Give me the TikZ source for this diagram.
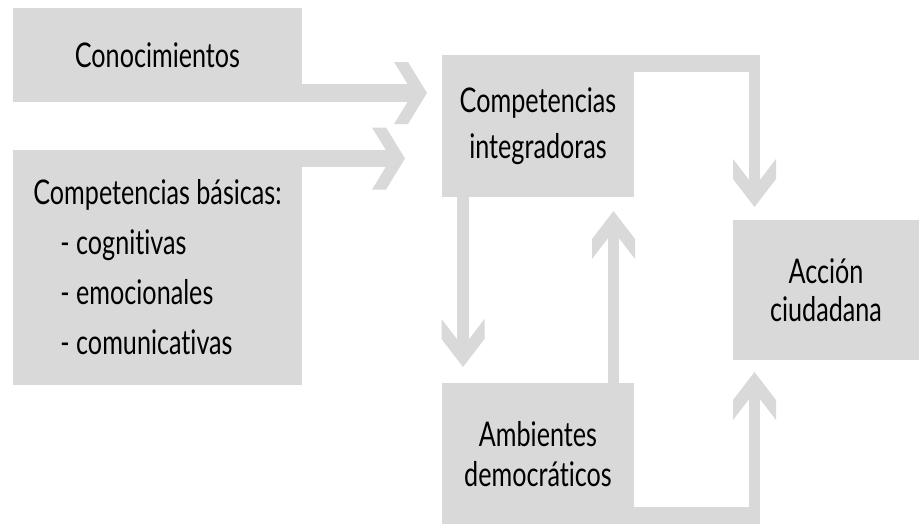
\documentclass[tikz,border=0pt]{standalone}
\usepackage{fontspec}
\setmainfont{Lato}[FakeStretch=0.74, Ligatures=NoCommon]
\usetikzlibrary{calc}
\definecolor{boxgray}{RGB}{217,217,217}
\tikzset{
  box/.style={fill=boxgray, inner sep=0pt, outer sep=0pt, align=center,
    font=\fontsize{34}{40}\selectfont},
  shaft/.style={draw=boxgray, line cap=butt},
  headfill/.style={fill=boxgray},
}
\newcommand\chevR[1]{\fill[headfill] (#1) -- ++(-19,-31) -- ++(-14,0) -- ++(19,31) -- ++(-19,31) -- ++(14,0) -- cycle;}
\newcommand\chevD[1]{\fill[headfill] (#1) -- ++(-21.5,-28) -- ++(0,-20) -- ++(21.5,28) -- ++(21.5,-28) -- ++(0,20) -- cycle;}
\newcommand\chevU[1]{\fill[headfill] (#1) -- ++(-21.5,28) -- ++(0,20) -- ++(21.5,-28) -- ++(21.5,28) -- ++(0,-20) -- cycle;}
\begin{document}
\begin{tikzpicture}[x=1pt,y=-1pt]
\useasboundingbox (0,0) rectangle (919,523);
\begin{scope}
\clip (0,0) rectangle (919,523);
% boxes
\node[box, minimum width=289pt, minimum height=94pt] (con) at (157.5,55) {Conocimientos};
\node[box, minimum width=289pt, minimum height=235pt, align=left,
      font=\fontsize{34}{50}\selectfont] (cb) at (157.5,267.5)
      {Competencias básicas:\\\hspace*{27pt}- cognitivas\\\hspace*{27pt}- emocionales\\\hspace*{27pt}- comunicativas};
\node[box, minimum width=192pt, minimum height=142pt,
      font=\fontsize{34}{46}\selectfont] (ci) at (538,126) {Competencias\\integradoras};
\node[box, minimum width=186pt, minimum height=140pt,
      font=\fontsize{34}{38}\selectfont] (ac) at (826,290) {Acción\\ciudadana};
\node[box, minimum width=192pt, minimum height=142pt,
      font=\fontsize{34}{40}\selectfont] (am) at (538,454) {Ambientes\\democráticos};
% 1: Conocimientos -> Competencias integradoras
\coordinate (s1) at ([yshift=9pt]con.south east);
\coordinate (t1) at ($(s1 -| ci.west)+(-15,0)$);
\draw[shaft, line width=18pt] (s1) -- ($(t1)+(-12,0)$);
\chevR{t1}
% 2: Competencias basicas -> Competencias integradoras
\coordinate (s2) at ([yshift=-8.5pt]cb.north east);
\coordinate (t2) at ($(s2 -| ci.west)+(-37,0)$);
\draw[shaft, line width=17pt] (s2) -- ($(t2)+(-12,0)$);
\chevR{t2}
% 3: Competencias integradoras -> Accion ciudadana
\coordinate (s3) at ([yshift=-8.5pt]ci.north east);
\coordinate (c3) at ($(ac.north west)+(21.5,0)$);
\coordinate (t3) at ($(c3)+(0,-13)$);
\draw[shaft, line width=17pt] (s3) -- ($(s3 -| c3)+(5.5,0)$);
\draw[shaft, line width=11pt] (ci.north -| c3) -- ($(t3)+(0,-10)$);
\chevD{t3}
% 4: Competencias integradoras -> Ambientes
\coordinate (c4) at ($(ci.south west)+(21,0)$);
\coordinate (t4) at ($(c4 |- am.north)+(0,-16)$);
\draw[shaft, line width=12pt] (c4) -- ($(t4)+(0,-10)$);
\chevD{t4}
% 5: Ambientes -> Competencias integradoras
\coordinate (c5) at ($(am.north east)+(-20.5,0)$);
\coordinate (t5) at ($(c5 |- ci.south)+(0,14)$);
\draw[shaft, line width=11pt] (c5) -- ($(t5)+(0,10)$);
\chevU{t5}
% 6: Ambientes -> Accion ciudadana
\coordinate (s6) at ($(am.south east)+(0,-9)$);
\coordinate (t6) at ($(c3 |- ac.south)+(0,12)$);
\draw[shaft, line width=18pt] (s6) -- ($(s6 -| c3)+(5.5,0)$);
\draw[shaft, line width=11pt] ($(s6 -| c3)+(0,9)$) -- ($(t6)+(0,10)$);
\chevU{t6}
\end{scope}
\end{tikzpicture}
\end{document}
